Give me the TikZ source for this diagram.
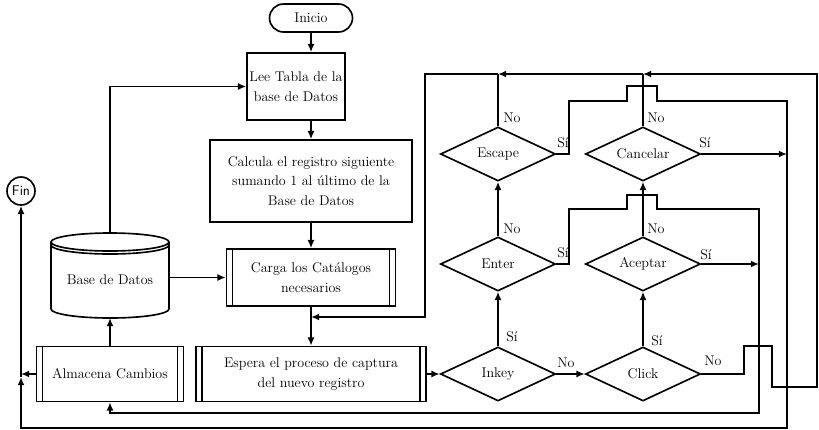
\documentclass[tikz,border=0pt]{standalone}
\usepackage{tikz}
\usetikzlibrary{shapes.geometric,arrows.meta}
\tikzset{
	linea/.style={line width=1.4pt},
	flecha/.style={linea,-{Latex[length=7pt,width=6pt]}},
	caja/.style={linea,draw,align=center,inner sep=2pt,minimum width=#1},
	proceso/.style={caja=#1,path picture={
		\draw[linea] ([xshift=1.8mm]path picture bounding box.north west) -- ([xshift=1.8mm]path picture bounding box.south west)
			([xshift=-1.8mm]path picture bounding box.north east) -- ([xshift=-1.8mm]path picture bounding box.south east);}},
	decision/.style={linea,draw,diamond,aspect=2.1,inner sep=0pt,minimum width=34.5mm,minimum height=16.2mm},
	terminal/.style={linea,draw,rounded corners=4.2mm,minimum width=24.9mm,minimum height=8.4mm},
	etiq/.style={inner sep=1pt}
}
\begin{document}
\begin{tikzpicture}[x=0.3mm,y=-0.3mm,font=\fontsize{12}{16.6}\selectfont]
			\useasboundingbox (0,0) rectangle (819,429);
			\node[terminal] (inicio) at (311,18) {Inicio};
			\node[caja=29.4mm,minimum height=20.1mm] (lee) at (296,86.5) {Lee Tabla de la\\base de Datos};
			\node[caja=60.6mm,minimum height=24.6mm] (calcula) at (311,181) {Calcula el registro siguiente\\sumando 1 al \'ultimo de la\\Base de Datos};
			\node[proceso=50.7mm,minimum height=17.1mm] (carga) at (311,277.5) {Carga los Cat\'alogos\\necesarios};
			\node[proceso=69mm,minimum height=16.5mm] (espera) at (311,374) {Espera el proceso de captura\\del nuevo registro};
			\node[proceso=44.1mm,minimum height=16.5mm] (almacena) at (110,374) {Almacena Cambios};
			\node[minimum width=35.4mm,minimum height=25.5mm,outer sep=0pt] (bd) at (110,275.5) {};
			\node (bdtxt) at (110,280) {Base de Datos};
			\draw[linea] (bd.north) ++(0,9) ellipse [x radius=17.7mm,y radius=2.7mm];
			\draw[linea] ([yshift=-2.7mm]bd.north west) -- ([yshift=2.7mm]bd.south west) arc[start angle=180,end angle=360,x radius=17.7mm,y radius=2.7mm] -- ([yshift=-2.7mm]bd.north east);
			\draw[linea] ([yshift=-3.6mm]bd.north west) arc[start angle=180,end angle=360,x radius=17.7mm,y radius=2.7mm];
			\node[linea,draw,circle,minimum size=8.4mm,inner sep=0pt,font=\sffamily\fontsize{12}{14}\selectfont] (fin) at (21,191) {Fin};
			\node[decision] (inkey) at (498,374) {Inkey};
			\node[decision] (click) at (643,374) {Click};
			\node[decision] (enter) at (498,264) {Enter};
			\node[decision] (aceptar) at (643,264) {Aceptar};
			\node[decision] (escape) at (498,154) {Escape};
			\node[decision] (cancelar) at (643,154) {Cancelar};
			\node[etiq] (l1) at (512,118) {No};
			\node[etiq] (l2) at (563,143) {S\'i};
			\node[etiq] (l3) at (656,118) {No};
			\node[etiq] (l4) at (705,143) {S\'i};
			\node[etiq] (l5) at (512,229) {No};
			\node[etiq] (l6) at (563,253) {S\'i};
			\node[etiq] (l7) at (656,229) {No};
			\node[etiq] (l8) at (706,255) {S\'i};
			\node[etiq] (l9) at (512,337) {S\'i};
			\node[etiq] (l10) at (566,363) {No};
			\node[etiq] (l11) at (657,341) {S\'i};
			\node[etiq] (l12) at (713,361) {No};
			\coordinate (ret) at (425,74);
			\coordinate (jn) at (311,317);
			\draw[flecha] (inicio) -- (lee.north -| inicio);
			\draw[flecha] (lee.south -| inicio) -- (calcula);
			\draw[flecha] (calcula) -- (carga);
			\draw[flecha] (carga) -- (espera);
			\draw[flecha] (espera) -- (inkey);
			\draw[flecha] (inkey) -- (click);
			\draw[flecha] (inkey) -- (enter);
			\draw[flecha] (enter) -- (escape);
			\draw[flecha] (click) -- (aceptar);
			\draw[flecha] (aceptar) -- (cancelar);
			\draw[flecha] (click.east) -- (744,374) |- (772,346) |- (817,387) -- (817,74) -- (cancelar.north |- ret);
			\draw[linea] (cancelar.north) -- (cancelar.north |- ret);
			\draw[flecha] (cancelar.north |- ret) -- (escape.north |- ret);
			\draw[linea] (escape.north) -- (escape.north |- ret);
			\draw[flecha] (escape.north |- ret) -- (ret) |- (jn);
			\draw[flecha] (escape.east) -- (569,154) |- (627,101) |- (657,86) |- (787,101) -- (787,428) -| (21,377);
			\draw[flecha] (21,377) -- (fin);
			\draw[flecha] (cancelar.east) -- (787,154);
			\draw[flecha] (enter.east) -- (569,264) |- (627,209) |- (657,195) |- (759,209) -- (759,413) -| (almacena.south);
			\draw[flecha] (aceptar.east) -- (759,264);
			\draw[flecha] (almacena.west) -- (21,374);
			\draw[flecha] (almacena) -- (bd.south);
			\draw[flecha] (bd.north) |- (lee.west);
			\draw[flecha] (bd.east |- carga) -- (carga.west);
		\end{tikzpicture}
\end{document}
